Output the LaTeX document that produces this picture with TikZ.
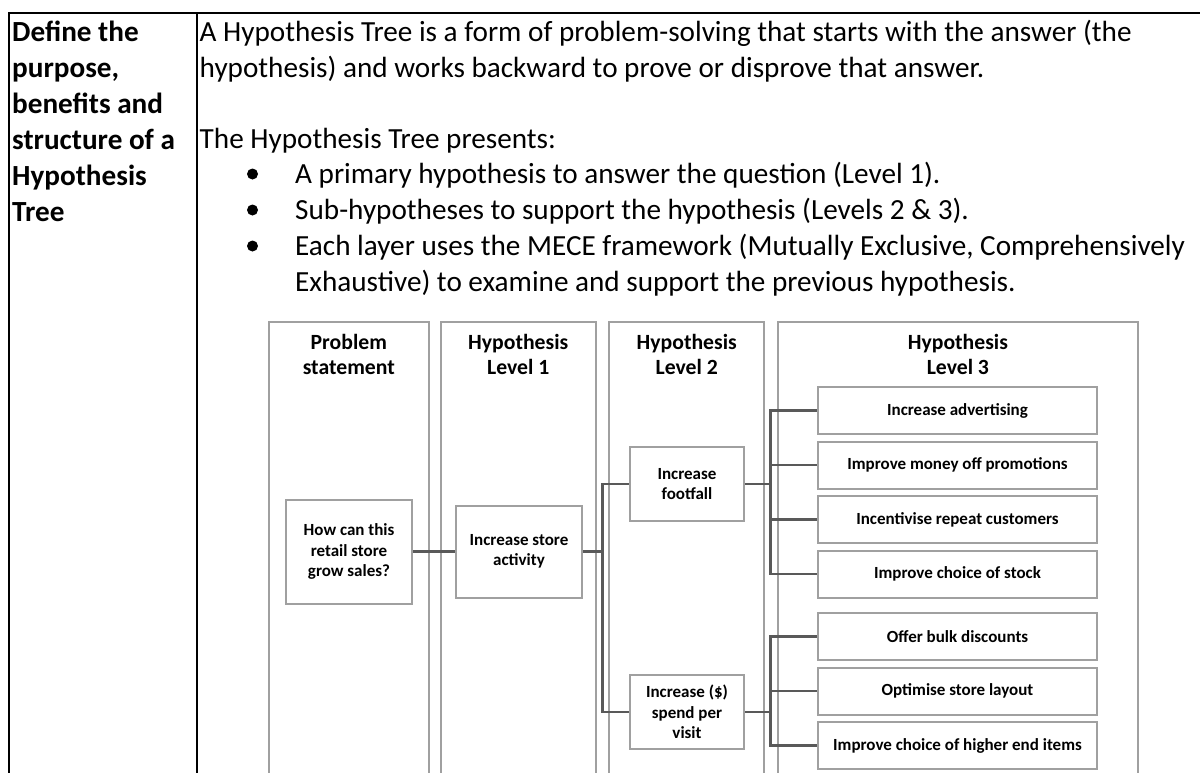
\documentclass[tikz,border=0pt]{standalone}
\usepackage{fontspec}
\setmainfont{Carlito}
\usetikzlibrary{positioning}
\definecolor{rulegray}{HTML}{A0A0A0}
\definecolor{linkgray}{HTML}{595959}

\begin{document}
\begin{tikzpicture}[
  x=1pt, y=-1pt,
  node distance=5.5pt,
  tline/.style={line width=2pt},
  panel/.style={draw=rulegray,line width=2pt},
  body/.style={anchor=base west,inner sep=0pt,font=\fontsize{29.2}{36}\selectfont},
  lead/.style={body,font=\bfseries\fontsize{29.2}{36}\selectfont},
  dot/.style={circle,fill,inner sep=0pt,minimum size=11pt},
  hdr/.style={align=center,inner sep=0pt,font=\bfseries\fontsize{21.7}{25.5}\selectfont},
  hbox/.style={draw=rulegray,line width=2pt,align=center,inner sep=0pt,font=\bfseries\fontsize{17}{20.5}\selectfont},
  leaf/.style={hbox,minimum width=279pt,minimum height=47pt},
  link/.style={draw=linkgray,line width=2.6pt}
]
\useasboundingbox (0,0) rectangle (1200,772);
\clip (0,0) rectangle (1200,772);

\draw[tline] (9,780) |- (1200,13);
\draw[tline] (197,13) -- (197,780);

\node[lead] (l1) at (12,41) {Define the};
\node[lead] (l2) at (12,77) {purpose,};
\node[lead] (l3) at (12,113) {benefits and};
\node[lead] (l4) at (12,149) {structure of a};
\node[lead] (l5) at (12,185) {Hypothesis};
\node[lead] (l6) at (12,221) {Tree};

\node[body] (intro1) at (199.5,41) {A Hypothesis Tree is a form of problem-solving that starts with the answer (the};
\node[body] (intro2) at (199.5,77) {hypothesis) and works backward to prove or disprove that answer.};
\node[body] (presents) at (199.5,148) {The Hypothesis Tree presents:};
\node[dot] (dot1) at (252.5,174) {};
\node[body] (item1) at (295,183.5) {A primary hypothesis to answer the question (Level 1).};
\node[dot] (dot2) at (252.5,210) {};
\node[body] (item2) at (295,219.5) {Sub-hypotheses to support the hypothesis (Levels 2 \& 3).};
\node[dot] (dot3) at (252.5,246) {};
\node[body] (item3) at (295,255.5) {Each layer uses the MECE framework (Mutually Exclusive, Comprehensively};
\node[body] (item3b) at (295,291.5) {Exhaustive) to examine and support the previous hypothesis.};

\draw[panel] (268.8,780) |- (428.8,322) -- (428.8,780);
\draw[panel] (441,780) |- (595.5,322) -- (595.5,780);
\draw[panel] (609.3,780) |- (764,322) -- (764,780);
\draw[panel] (778.3,780) |- (1137.5,322) -- (1137.5,780);

\node[hdr] (hd1) at (348.8,354.5) {Problem\\statement};
\node[hdr] (hd2) at (518.2,354.5) {Hypothesis\\Level 1};
\node[hdr] (hd3) at (686.7,354.5) {Hypothesis\\Level 2};
\node[hdr] (hd4) at (957.9,354.5) {Hypothesis\\Level 3};

\node[hbox,minimum width=126pt,minimum height=104pt] (prob) at (349,551.5) {How can this\\retail store\\grow sales?};
\node[hbox,minimum width=126pt,minimum height=92pt] (lvl1) at (519,551.5) {Increase store\\activity};
\node[hbox,minimum width=114pt,minimum height=74pt] (foot) at (687,484) {Increase\\footfall};
\node[hbox,minimum width=114pt,minimum height=74pt] (spend) at (687,712) {Increase (\$)\\spend per\\visit};

\node[leaf] (adv) at (957.5,410.5) {Increase advertising};
\node[leaf,below=of adv] (money) {Improve money off promotions};
\node[leaf,below=of money] (cust) {Incentivise repeat customers};
\node[leaf,below=of cust] (stock) {Improve choice of stock};
\node[leaf,below=13.5pt of stock] (bulk) {Offer bulk discounts};
\node[leaf,below=of bulk] (layout) {Optimise store layout};
\node[leaf,below=of layout] (upmarket) {Improve choice of higher end items};

\draw[link] (prob.east) -- (lvl1.west);
\path (lvl1.east) ++(19.5,0) coordinate (j1);
\draw[link] (lvl1.east) -- (j1);
\draw[link] (j1) |- (foot.west);
\draw[link] (j1) |- (spend.west);
\path (foot.east) ++(25.7,0) coordinate (j2);
\draw[link] (foot.east) -- (j2);
\draw[link] (j2) |- (adv.west);
\draw[link] (j2) |- (money.west);
\draw[link] (j2) |- (cust.west);
\draw[link] (j2) |- (stock.west);
\path (spend.east) ++(25.7,0) coordinate (j3);
\draw[link] (spend.east) -- (j3);
\draw[link] (j3) |- (bulk.west);
\draw[link] (j3) |- (layout.west);
\draw[link] (j3) |- (upmarket.west);
\end{tikzpicture}
\end{document}
